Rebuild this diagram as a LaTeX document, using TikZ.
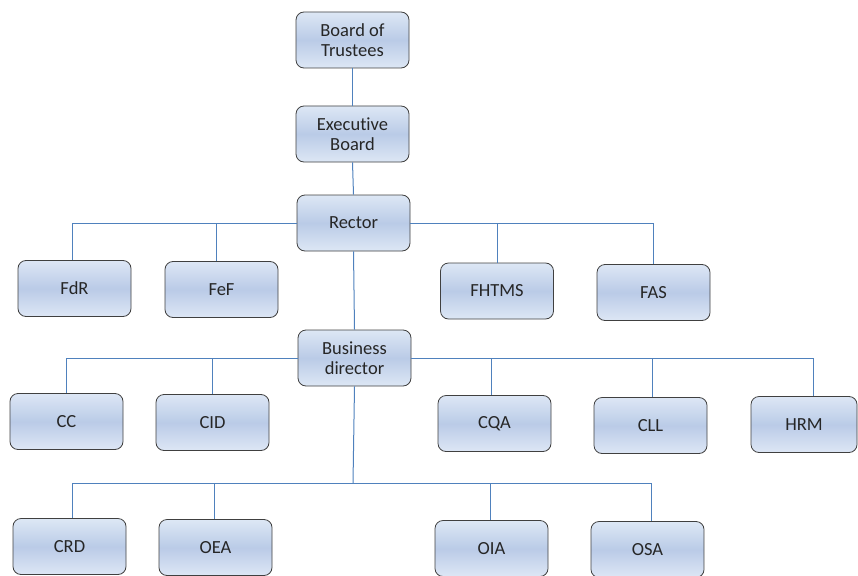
\documentclass[tikz,border=0pt]{standalone}
\usepackage{fontspec}
\setmainfont{Carlito}[Ligatures=NoCommon]
\begin{document}
\begin{tikzpicture}[x=1pt,y=-1pt,
  unit/.style={draw=black!75, line width=0.8pt, rounded corners=8pt,
    minimum width=113pt, minimum height=56pt, align=center,
    font=\fontsize{18.5}{20}\selectfont, text=black!85,
    top color=boxlight, bottom color=boxlight, middle color=boxdark},
  link/.style={draw=linkblue, line width=1pt}]
\definecolor{boxlight}{HTML}{DDE7F5}
\definecolor{boxdark}{HTML}{BACBE7}
\definecolor{linkblue}{HTML}{4F81BD}
\useasboundingbox (0,0) rectangle (858,575);
\clip (0,0) rectangle (858,575);

% governing bodies
\node[unit] (bot) at (352.5,40) {Board of\\Trustees};
\node[unit] (eb) at (352.5,134) {Executive\\Board};
\node[unit] (rector) at (353.5,223) {Rector};

% faculties
\node[unit] (fdr) at (74.5,288.5) {FdR};
\node[unit] (fef) at (221.5,289.5) {FeF};
\node[unit] (fhtms) at (497,291) {FHTMS};
\node[unit] (fas) at (653.5,292.5) {FAS};

% business director and centres
\node[unit] (bd) at (354.5,358) {Business\\director};
\node[unit] (cc) at (66.5,421.5) {CC};
\node[unit] (cid) at (212.5,422.5) {CID};
\node[unit] (cqa) at (494.5,423.5) {CQA};
\node[unit] (cll) at (650.5,425.5) {CLL};
\node[unit, minimum width=106pt] (hrm) at (804,424.5) {HRM};

% offices
\node[unit] (crd) at (69.5,546.5) {CRD};
\node[unit] (oea) at (215.5,547.5) {OEA};
\node[unit] (oia) at (491.5,548.5) {OIA};
\node[unit] (osa) at (647.5,549.5) {OSA};

\coordinate (j) at (353,483);

% connectors
\path[link] (bot.south) -- (eb.north);
\path[link] (eb.south) -- (rector.north);
\path[link] (rector.south) -- (bd.north);

\path[link] (rector.west) -| ([xshift=-2.5pt]fdr.north);
\path[link] ([xshift=-5.5pt]fef.north) -- ([xshift=-5.5pt]fef.north |- rector.west);
\path[link] (rector.east) -| (fas.north);
\path[link] (fhtms.north) -- (fhtms.north |- rector.east);

\path[link] (bd.west) -| (cc.north);
\path[link] (cid.north) -- (cid.north |- bd.west);
\path[link] (bd.east) -| ([xshift=9pt]hrm.north);
\path[link] ([xshift=-3.5pt]cqa.north) -- ([xshift=-3.5pt]cqa.north |- bd.east);
\path[link] ([xshift=1.5pt]cll.north) -- ([xshift=1.5pt]cll.north |- bd.east);

\path[link] (bd.south) -- (j);
\path[link] (j) -| ([xshift=2.5pt]crd.north);
\path[link] (j) -| ([xshift=3.5pt]osa.north);
\path[link] ([xshift=-1.5pt]oea.north) -- ([xshift=-1.5pt]oea.north |- j);
\path[link] ([xshift=-1.5pt]oia.north) -- ([xshift=-1.5pt]oia.north |- j);
\end{tikzpicture}
\end{document}
